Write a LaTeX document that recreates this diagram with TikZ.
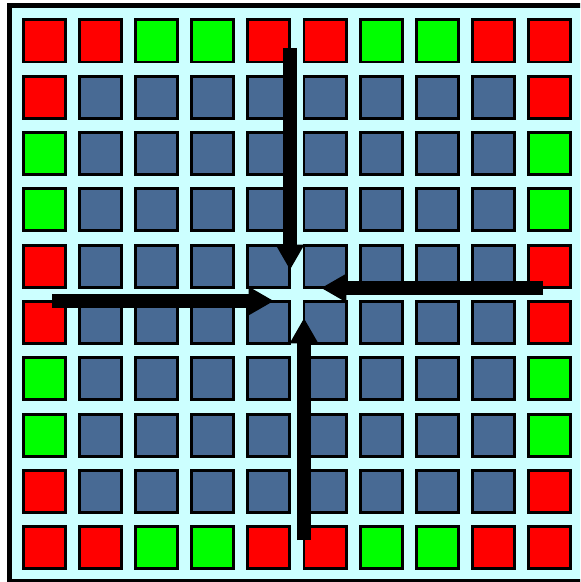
\documentclass[tikz,border=0pt]{standalone}
\usepackage{tikz}
\usetikzlibrary{arrows.meta}
\definecolor{bgcyan}{HTML}{CCFFFF}
\definecolor{cellblue}{HTML}{486A94}
\definecolor{cellred}{HTML}{FF0000}
\definecolor{cellgreen}{HTML}{00FF00}

\begin{document}
\begin{tikzpicture}[
    x=0.025cm, y=-0.025cm,
    >={Triangle[length=18pt, width=19pt]},
    cell/.style={draw, line width=2.1pt, fill=#1, minimum size=29.9pt, inner sep=0pt},
    push/.style={->, line width=9.3pt},
]
    \useasboundingbox (0,0) rectangle (580,582);
    \clip (0,0) rectangle (580,582);

    % Frame
    \draw[fill=bgcyan, line width=3.56pt] (9.5,6) rectangle (583,581.8);

    % Cells: red/green on the rim, blue inside
    \foreach \r in {0,...,9}{
        \foreach \c in {0,...,9}{
            \pgfmathtruncatemacro{\edge}{(\r==0 || \r==9) ? \c : ((\c==0 || \c==9) ? \r : -1)}
            \ifnum\edge<0
                \def\tint{cellblue}
            \else
                \pgfmathtruncatemacro{\q}{mod(\edge,4)}
                \ifnum\q<2 \def\tint{cellred}\else\def\tint{cellgreen}\fi
            \fi
            \node[cell=\tint] (sq-\r-\c) at ({44.5+56.1*\c},{41+56.3*\r}) {};
        }
    }

    % Arrow ends
    \coordinate (n-start) at (290,48);
    \coordinate (n-end) at (290,270);
    \coordinate (s-start) at (304,540);
    \coordinate (s-end) at (304,318);
    \coordinate (e-start) at (543,288);
    \coordinate (e-end) at (321,288);
    \coordinate (w-start) at (52,301);
    \coordinate (w-end) at (274,301);

    % Arrows into the centre
    \draw[push] (n-start) -- (n-end);
    \draw[push] (s-start) -- (s-end);
    \draw[push] (e-start) -- (e-end);
    \draw[push] (w-start) -- (w-end);
\end{tikzpicture}
\end{document}
